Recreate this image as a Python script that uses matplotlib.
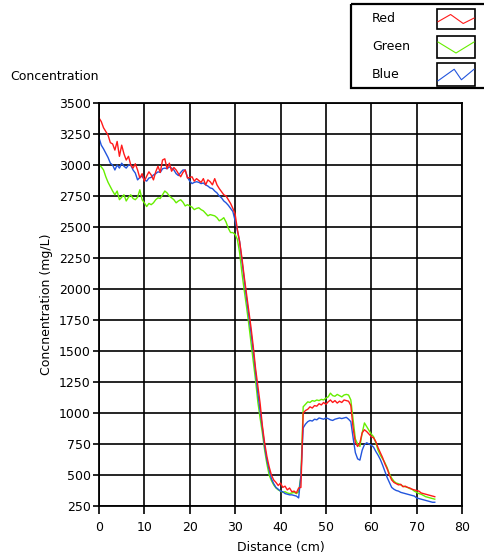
import numpy as np
import matplotlib
matplotlib.use("Agg")
import matplotlib.pyplot as plt
from matplotlib.patches import Rectangle

# distance samples (cm), every 0.5 cm from 0 to 74
distance = np.arange(0, 74.01, 0.5)

red = [
    3380, 3350, 3300, 3270, 3240, 3180, 3170, 3120, 3190, 3070,
    3160, 3090, 3040, 3070, 3000, 2975, 3010, 2960, 2895, 2930,
    2870, 2910, 2945, 2920, 2880, 2945, 2990, 2940, 3040, 3050,
    2970, 3015, 2950, 2980, 2960, 2930, 2905, 2940, 2960, 2895,
    2900, 2905, 2870, 2890, 2875, 2860, 2890, 2840, 2880, 2865,
    2840, 2890, 2840, 2810, 2785, 2760, 2750, 2720, 2690, 2650,
    2605, 2480, 2380, 2250, 2100, 1965, 1830, 1690, 1535, 1360,
    1220, 1080, 900, 760, 650, 565, 500, 460, 440, 415,
    435, 400, 410, 380, 395, 365, 370, 355, 395, 400,
    1000, 1020, 1030, 1050, 1040, 1060, 1055, 1075, 1065, 1085,
    1070, 1090, 1105, 1085, 1100, 1080, 1095, 1085, 1105, 1100,
    1095, 1060, 880, 760, 730, 760, 840, 865, 850, 830,
    810, 800, 770, 720, 680, 640, 590, 550, 500, 460,
    440, 430, 420, 425, 405, 410, 400, 395, 385, 380,
    375, 370, 355, 350, 345, 340, 335, 330, 325,
]

green = [
    3000, 2985, 2960, 2905, 2860, 2825, 2790, 2760, 2790, 2720,
    2740, 2760, 2710, 2740, 2760, 2730, 2720, 2740, 2800, 2720,
    2695, 2665, 2690, 2680, 2695, 2720, 2735, 2730, 2760, 2790,
    2775, 2750, 2735, 2720, 2695, 2710, 2720, 2700, 2670, 2680,
    2670, 2660, 2640, 2650, 2655, 2640, 2630, 2610, 2590, 2600,
    2595, 2590, 2575, 2550, 2560, 2575, 2540, 2490, 2455, 2455,
    2440, 2400, 2290, 2130, 1990, 1860, 1720, 1565, 1415, 1265,
    1090, 960, 840, 700, 590, 500, 455, 420, 395, 380,
    370, 360, 365, 355, 350, 355, 360, 350, 365, 490,
    1050, 1070, 1090, 1085, 1100, 1095, 1105, 1100, 1110, 1105,
    1120, 1130, 1160, 1140, 1135, 1150, 1140, 1130, 1145, 1150,
    1145, 1105, 950, 790, 750, 730, 840, 920, 890, 860,
    830, 810, 760, 700, 660, 630, 600, 560, 510, 475,
    450, 435, 430, 420, 410, 405, 400, 390, 385, 370,
    360, 350, 345, 335, 325, 320, 315, 310, 305,
]

blue = [
    3220, 3160, 3130, 3095, 3060, 3015, 3000, 2960, 3000, 2975,
    3015, 2990, 2975, 3000, 3000, 2960, 2935, 2880, 2900, 2910,
    2880, 2870, 2895, 2900, 2920, 2930, 2945, 2940, 2970, 2975,
    2970, 2985, 2975, 2960, 2930, 2915, 2940, 2960, 2960, 2900,
    2870, 2850, 2860, 2865, 2860, 2850, 2855, 2840, 2830, 2815,
    2810, 2790, 2775, 2750, 2735, 2710, 2695, 2675, 2650, 2625,
    2550, 2470, 2380, 2230, 2080, 1930, 1790, 1650, 1500, 1330,
    1160, 1020, 880, 730, 620, 540, 470, 430, 400, 385,
    370, 365, 350, 345, 340, 340, 335, 330, 315, 500,
    880, 910, 930, 940, 935, 950, 945, 960, 955, 950,
    960, 955, 945, 940, 950, 955, 960, 955, 960, 965,
    950, 930, 800, 680, 630, 620, 700, 745, 760, 750,
    740, 725, 690, 660, 625, 580, 530, 480, 440, 400,
    385, 375, 370, 360, 355, 350, 345, 340, 335, 330,
    315, 310, 305, 300, 295, 290, 285, 280, 280,
]

series = [("Red", red, "#ff1a1a"), ("Green", green, "#66ee00"), ("Blue", blue, "#2255dd")]

fig = plt.figure(figsize=(4.84, 5.56), dpi=100)
ax = fig.add_axes([99 / 484, 1 - 506 / 556, 363 / 484, 403 / 556])

for name in ["Green", "Blue", "Red"]:
    for n, vals, col in series:
        if n == name:
            ax.plot(distance, vals, color=col, lw=1.0)

ax.set_xlim(0, 80)
ax.set_ylim(250, 3500)
ax.set_xticks(range(0, 81, 10))
ax.set_yticks(range(250, 3501, 250))
ax.grid(True, color="black", lw=1.2)
for s in ax.spines.values():
    s.set_linewidth(1.3)
ax.tick_params(direction="out", length=4, width=1.2, labelsize=9, pad=2)
ax.tick_params(axis="x", length=6, pad=5)
ax.set_xlabel("Distance (cm)", fontsize=9, labelpad=5)
ax.set_ylabel("Concnentration (mg/L)", fontsize=9, labelpad=4)
fig.text(10 / 484, 1 - 77 / 556, "Concentration", fontsize=9, va="center", ha="left")

# legend box drawn in pixel coordinates
lg = fig.add_axes([351 / 484, 1 - 88 / 556, 133 / 484, 84 / 556])
lg.set_xlim(0, 133)
lg.set_ylim(84, 0)
lg.axis("off")
lg.add_patch(Rectangle((0, 0), 140, 84, fill=False, lw=1.6, ec="black", clip_on=False))
rows = [(5, 25), (32, 54), (59, 82)]
icons = {
    "Red": ([0, 0.35, 0.7, 1.0], [0.35, 0.75, 0.25, 0.55]),
    "Green": ([0, 0.5, 1.0], [0.75, 0.2, 0.75]),
    "Blue": ([0, 0.45, 0.65, 1.0], [0.2, 0.75, 0.25, 0.75]),
}
for (n, vals, col), (y0, y1) in zip(series, rows):
    lg.add_patch(Rectangle((86, y0), 38, y1 - y0, fill=False, lw=1.2, ec="black"))
    lg.text(21, (y0 + y1) / 2, n, fontsize=9, va="center", ha="left")
    xs, ys = icons[n]
    lg.plot([87 + 36 * v for v in xs], [y1 - 1 - (y1 - y0 - 2) * v for v in ys], color=col, lw=0.8)

fig.savefig("out.png", dpi=100)
